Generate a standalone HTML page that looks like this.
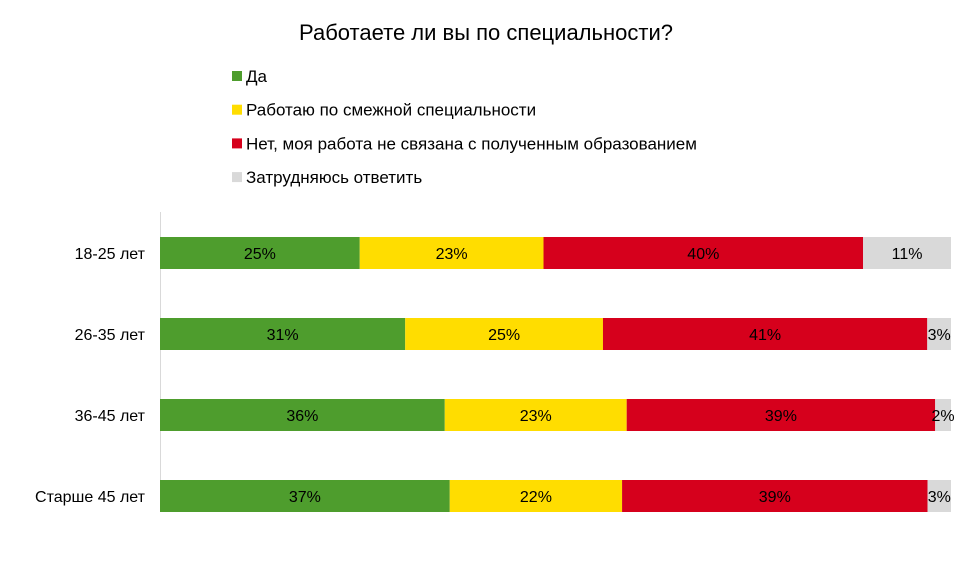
<!DOCTYPE html>
<html><head><meta charset="utf-8"><style>
body{margin:0;background:#fff;font-family:"Liberation Sans",sans-serif;}
</style></head><body>
<svg width="972" height="558" xmlns="http://www.w3.org/2000/svg" font-family="Liberation Sans, sans-serif">
<text x="486" y="40" text-anchor="middle" font-size="22" fill="#000">Работаете ли вы по специальности?</text>
<g id="legend"></g>
<line x1="160.5" y1="212" x2="160.5" y2="512" stroke="#d9d9d9" stroke-width="1"/>
<g id="bars"></g>
</svg>
<script>
const categories = ["18-25 лет","26-35 лет","36-45 лет","Старше 45 лет"];
const seriesNames = ["Да","Работаю по смежной специальности","Нет, моя работа не связана с полученным образованием","Затрудняюсь ответить"];
const seriesColors = ["#4e9d2d","#ffdd00","#d6001c","#d9d9d9"];
const yes = [25,31,36,37];
const related = [23,25,23,22];
const no = [40,41,39,39];
const unsure = [11,3,2,3];
const series = [yes, related, no, unsure];
const NS="http://www.w3.org/2000/svg";
const x0=160, x1=951, barH=32;
const xScale = v => x0 + v*(x1-x0);
const yCenter = i => 253 + i*81;
const leg=document.getElementById('legend');
seriesNames.forEach((n,s)=>{
  const y=76+s*33.7;
  const r=document.createElementNS(NS,'rect');
  r.setAttribute('x',232);r.setAttribute('y',y-5);r.setAttribute('width',10);r.setAttribute('height',10);r.setAttribute('fill',seriesColors[s]);
  
  
  leg.appendChild(r);
  const t=document.createElementNS(NS,'text');
  t.setAttribute('x',246);t.setAttribute('y',y+6);t.setAttribute('font-size','17');t.textContent=n;
  
  
  leg.appendChild(t);
});
const g=document.getElementById('bars');
categories.forEach((c,i)=>{
  const yc=yCenter(i);
  const lab=document.createElementNS(NS,'text');
  lab.setAttribute('x',145);lab.setAttribute('y',yc+6);lab.setAttribute('text-anchor','end');lab.setAttribute('font-size','16');lab.textContent=c;
  
  
  g.appendChild(lab);
  const total=series.reduce((a,s)=>a+s[i],0);
  let cum=0;
  series.forEach((s,k)=>{
    const v=s[i];
    const xa=xScale(cum/total), xb=xScale((cum+v)/total);
    cum+=v;
    const r=document.createElementNS(NS,'rect');
    r.setAttribute('x',xa);r.setAttribute('y',yc-barH/2);r.setAttribute('width',xb-xa);r.setAttribute('height',barH);r.setAttribute('fill',seriesColors[k]);
    
    
    g.appendChild(r);
    const t=document.createElementNS(NS,'text');
    t.setAttribute('x',(xa+xb)/2);t.setAttribute('y',yc+6);t.setAttribute('text-anchor','middle');t.setAttribute('font-size','16');t.textContent=v+'%';
    
    
    g.appendChild(t);
  });
});
</script>
</body></html>
